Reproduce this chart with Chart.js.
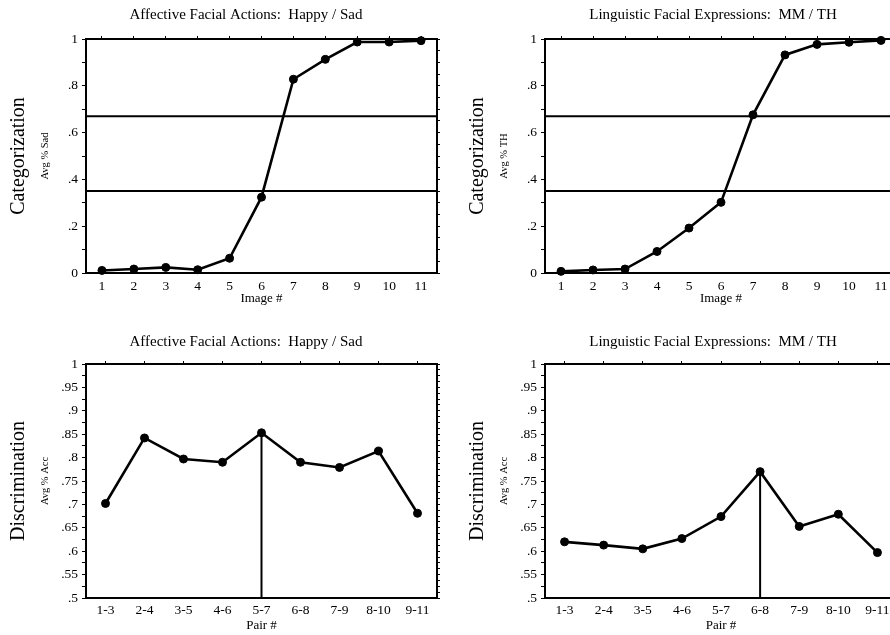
<!DOCTYPE html>
<html>
<head>
<meta charset="utf-8">
<script src="https://cdn.jsdelivr.net/npm/chart.js@4"></script>
<style>
  html, body { margin: 0; padding: 0; background: #fff; width: 890px; height: 635px; overflow: hidden; position: relative; }
  canvas { position: absolute; }
</style>
</head>
<body>
<canvas id="catA" width="492" height="310" style="left:0;top:0"></canvas>
<canvas id="catB" width="508" height="310" style="left:459px;top:0"></canvas>
<canvas id="discA" width="492" height="310" style="left:0;top:325px"></canvas>
<canvas id="discB" width="508" height="310" style="left:459px;top:325px"></canvas>
<script>
// image continuum (categorization) and pair labels (discrimination)
const imageLabels = ['1', '2', '3', '4', '5', '6', '7', '8', '9', '10', '11'];
const pairLabels = ['1-3', '2-4', '3-5', '4-6', '5-7', '6-8', '7-9', '8-10', '9-11'];

// avg proportion "Sad" / "TH" responses per image
const catHappySad = [0.011, 0.017, 0.024, 0.014, 0.063, 0.324, 0.828, 0.913, 0.987, 0.987, 0.993];
const catMmTh = [0.007, 0.013, 0.017, 0.092, 0.192, 0.302, 0.676, 0.932, 0.977, 0.986, 0.994];

// avg accuracy per pair
const discHappySad = [0.702, 0.842, 0.797, 0.790, 0.853, 0.790, 0.779, 0.814, 0.681];
const discMmTh = [0.620, 0.613, 0.605, 0.627, 0.674, 0.770, 0.653, 0.679, 0.597];

// category boundary lines
const catBoundaries = [0.67, 0.35];

const catTickLabels = ['0', '.2', '.4', '.6', '.8', '1'];
const discTickLabels = ['.5', '.55', '.6', '.65', '.7', '.75', '.8', '.85', '.9', '.95', '1'];

const serif = "'Liberation Serif', 'Times New Roman', serif";

function buildChart(id, cfg) {
  const n = cfg.categories.length;
  const xMin = 0.5, xMax = n + 0.5;
  const datasets = [{
    data: cfg.values.map((v, i) => ({ x: i + 1, y: v })),
    borderColor: '#000',
    backgroundColor: '#000',
    borderWidth: 2.6,
    pointRadius: 4,
    pointBorderWidth: 1,
    tension: 0,
    clip: false
  }];
  (cfg.refLines || []).forEach(v => {
    datasets.push({
      data: [{ x: xMin, y: v }, { x: xMax, y: v }],
      borderColor: '#000', borderWidth: 2, pointRadius: 0, clip: false
    });
  });
  if (cfg.peakLine) {
    const peak = cfg.values.indexOf(Math.max(...cfg.values));
    datasets.push({
      data: [{ x: peak + 1, y: cfg.yMin }, { x: peak + 1, y: cfg.values[peak] }],
      borderColor: '#000', borderWidth: 2, pointRadius: 0, clip: false
    });
  }

  const intTicks = s => { s.ticks = cfg.categories.map((c, i) => ({ value: i + 1 })); };
  const yLabelFor = v => {
    const l = cfg.yTickLabels.find(t => Math.abs(parseFloat(t) - v) < 1e-6);
    return l === undefined ? '' : l;
  };
  const edge = { display: true, color: '#000', width: 2 };
  const tickFont = { family: serif, size: 13.5 };

  return new Chart(document.getElementById(id), {
    type: 'line',
    data: { datasets },
    options: {
      responsive: false,
      animation: false,
      events: [],
      layout: { padding: 0 },
      plugins: {
        legend: { display: false },
        tooltip: { enabled: false },
        title: {
          display: true, text: cfg.title, color: '#000',
          font: { family: serif, size: 15, weight: 'normal' },
          padding: cfg.titlePad
        }
      },
      scales: {
        x: {
          type: 'linear', axis: 'x', position: 'bottom', min: xMin, max: xMax,
          afterBuildTicks: intTicks,
          afterFit: s => { s.height = 37; },
          grid: { drawOnChartArea: false, drawTicks: false, color: '#000' },
          border: edge,
          ticks: {
            color: '#000', font: tickFont, padding: cfg.xTickPad, autoSkip: false, maxRotation: 0,
            callback: v => cfg.categories[Math.round(v) - 1]
          },
          title: {
            display: true, text: cfg.xLabel, color: '#000',
            font: { family: serif, size: 13 }, padding: { top: 0, bottom: cfg.xTitlePad }
          }
        },
        y: {
          type: 'linear', axis: 'y', position: 'left', min: cfg.yMin, max: 1,
          afterFit: s => { s.width = 56; },
          grid: { drawOnChartArea: false, tickLength: 4, color: '#000' },
          border: edge,
          ticks: {
            stepSize: cfg.yStep, autoSkip: false, color: '#000', font: tickFont, padding: 4,
            callback: yLabelFor
          },
          title: {
            display: true, text: cfg.yLabel, color: '#000',
            font: { family: serif, size: 10.5 }, padding: { top: 9, bottom: 0 }
          }
        },
        x2: {
          type: 'linear', axis: 'x', position: 'top', min: xMin, max: xMax,
          afterBuildTicks: intTicks,
          afterFit: s => { s.height = 3; },
          grid: { drawOnChartArea: false, tickLength: 3, color: '#000' },
          border: edge,
          ticks: { display: false }
        },
        y2: {
          type: 'linear', axis: 'y', position: 'right', min: cfg.yMin, max: 1,
          afterFit: s => { s.width = cfg.rightW; },
          grid: { drawOnChartArea: false, tickLength: 3, color: '#000' },
          border: edge,
          ticks: { display: false, stepSize: cfg.yStep / 2, autoSkip: false }
        },
        yName: {
          type: 'linear', axis: 'y', position: 'left', weight: 10,
          afterFit: s => { s.width = 30; },
          grid: { display: false },
          border: { display: false },
          ticks: { display: false },
          title: {
            display: true, text: cfg.bigLabel, color: '#000',
            font: { family: serif, size: 20 }, padding: { top: 7, bottom: 0 }
          }
        }
      }
    }
  });
}

buildChart('catA', {
  title: 'Affective Facial Actions:  Happy / Sad',
  bigLabel: 'Categorization', yLabel: 'Avg % Sad', xLabel: 'Image #',
  categories: imageLabels, values: catHappySad, refLines: catBoundaries,
  yMin: 0, yStep: 0.1, yTickLabels: catTickLabels,
  titlePad: { top: 6, bottom: 12 }, xTickPad: 5, xTitlePad: 4, rightW: 55
});
buildChart('catB', {
  title: 'Linguistic Facial Expressions:  MM / TH',
  bigLabel: 'Categorization', yLabel: 'Avg % TH', xLabel: 'Image #',
  categories: imageLabels, values: catMmTh, refLines: catBoundaries,
  yMin: 0, yStep: 0.1, yTickLabels: catTickLabels,
  titlePad: { top: 6, bottom: 12 }, xTickPad: 5, xTitlePad: 4, rightW: 70
});
buildChart('discA', {
  title: 'Affective Facial Actions:  Happy / Sad',
  bigLabel: 'Discrimination', yLabel: 'Avg % Acc', xLabel: 'Pair #',
  categories: pairLabels, values: discHappySad, peakLine: true,
  yMin: 0.5, yStep: 0.025, yTickLabels: discTickLabels,
  titlePad: { top: 8, bottom: 10 }, xTickPad: 4, xTitlePad: 2, rightW: 55
});
buildChart('discB', {
  title: 'Linguistic Facial Expressions:  MM / TH',
  bigLabel: 'Discrimination', yLabel: 'Avg % Acc', xLabel: 'Pair #',
  categories: pairLabels, values: discMmTh, peakLine: true,
  yMin: 0.5, yStep: 0.025, yTickLabels: discTickLabels,
  titlePad: { top: 8, bottom: 10 }, xTickPad: 4, xTitlePad: 2, rightW: 70
});
</script>
</body>
</html>
